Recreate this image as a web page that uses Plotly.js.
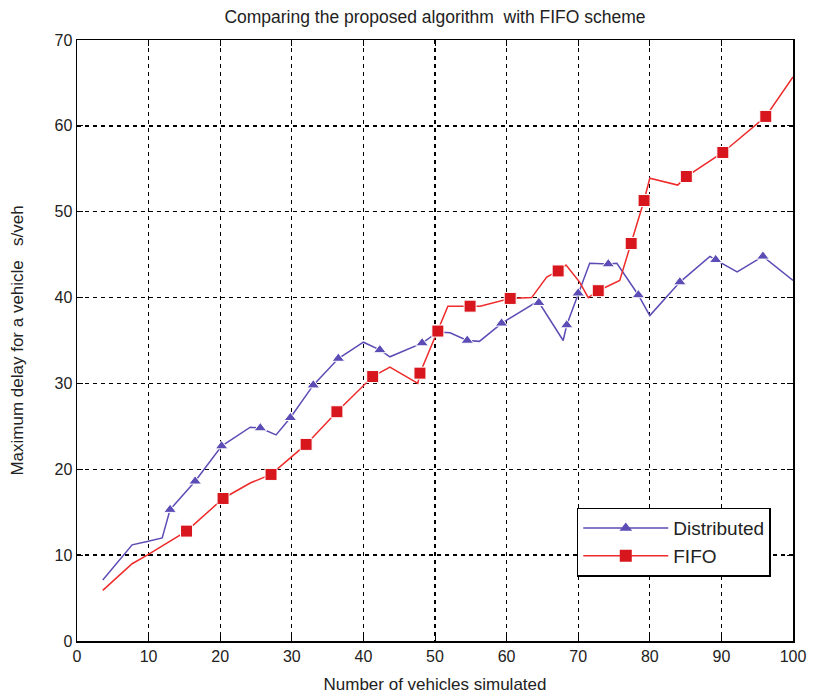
<!DOCTYPE html>
<html>
<head>
<meta charset="utf-8">
<script src="https://cdn.plot.ly/plotly-3.0.1.min.js"></script>
<style>html,body{margin:0;padding:0;background:#fff;}#chart{width:813px;height:698px;}</style>
</head>
<body>
<div id="chart"></div>
<script>
// Distributed line vertices
const distX = [3.6, 7.7, 9.8, 11.9, 13.0, 16.5, 20.2, 24.2, 25.6, 27.8, 29.8, 33.0, 36.5, 40.0, 42.3, 43.7, 48.2, 50.4, 52.1, 54.5, 56.2, 59.3, 64.4, 67.9, 68.4, 70.0, 71.6, 74.2, 75.4, 78.4, 80.0, 84.2, 88.4, 89.2, 92.2, 95.8, 100];
const distY = [7.1, 11.2, 11.6, 12.0, 15.3, 18.6, 22.7, 24.9, 24.8, 24.0, 26.0, 29.8, 32.9, 34.8, 33.9, 33.1, 34.7, 36.0, 35.9, 35.0, 34.9, 37.0, 39.6, 35.0, 36.8, 40.5, 44.0, 43.9, 44.0, 40.3, 37.9, 41.8, 44.8, 44.4, 43.0, 44.8, 42.0];
// Distributed marker positions
const distMX = [13.0, 16.5, 20.2, 25.6, 29.8, 33.0, 36.5, 42.3, 48.2, 54.5, 59.3, 64.5, 68.4, 70.0, 74.2, 78.4, 84.2, 89.2, 95.8];
const distMY = [15.3, 18.6, 22.7, 24.8, 26.0, 29.8, 32.9, 33.9, 34.7, 35.0, 37.0, 39.4, 36.8, 40.5, 43.9, 40.3, 41.8, 44.4, 44.8];

// FIFO line vertices
const fifoX = [3.6, 7.7, 9.8, 15.3, 20.4, 24.2, 27.1, 32.0, 36.3, 41.3, 43.7, 47.6, 47.9, 50.4, 51.8, 54.9, 56.3, 60.5, 63.5, 65.6, 67.2, 68.3, 70.2, 71.4, 72.8, 75.8, 77.4, 79.2, 80.0, 83.9, 85.1, 90.2, 96.2, 100];
const fifoY = [5.9, 9.0, 10.0, 12.8, 16.6, 18.4, 19.4, 22.9, 26.7, 30.8, 31.9, 30.0, 31.2, 36.1, 39.0, 39.0, 39.0, 39.9, 40.0, 42.4, 43.1, 43.8, 41.8, 40.0, 40.8, 42.0, 46.3, 51.3, 53.9, 53.1, 54.1, 56.9, 61.1, 65.7];
// FIFO marker positions
const fifoMX = [15.3, 20.4, 27.1, 32.0, 36.3, 41.3, 47.9, 50.4, 54.9, 60.5, 67.2, 72.8, 77.4, 79.2, 85.1, 90.2, 96.2];
const fifoMY = [12.8, 16.6, 19.4, 22.9, 26.7, 30.8, 31.2, 36.1, 39.0, 39.9, 43.1, 40.8, 46.3, 51.3, 54.1, 56.9, 61.1];

const xTicks = [0,10,20,30,40,50,60,70,80,90,100];
const yTicks = [0,10,20,30,40,50,60,70];

const blue = '#5b4db5';
const red = '#ee2a2a';
const font = 'Liberation Sans, Arial, sans-serif';

const traces = [
  {x: distX, y: distY, mode: 'lines', line: {color: blue, width: 1.5}, showlegend: false, hoverinfo: 'skip'},
  {x: distMX, y: distMY, mode: 'markers', marker: {symbol: 'triangle-up', size: 11, color: blue, line: {color: '#ffffff', width: 1}}, showlegend: false},
  {x: fifoX, y: fifoY, mode: 'lines', line: {color: red, width: 1.5}, showlegend: false, hoverinfo: 'skip'},
  {x: fifoMX, y: fifoMY, mode: 'markers', marker: {symbol: 'square', size: 12, color: '#d8161e', line: {color: '#ffffff', width: 1}}, showlegend: false},
  {x: [null], y: [null], name: 'Distributed', mode: 'lines+markers', line: {color: blue, width: 1.5}, marker: {symbol: 'triangle-up', size: 11, color: blue}},
  {x: [null], y: [null], name: 'FIFO', mode: 'lines+markers', line: {color: red, width: 1.5}, marker: {symbol: 'square', size: 12, color: '#d8161e'}}
];

const axisCommon = {
  showline: true, linecolor: '#000', linewidth: 1.5, mirror: 'ticks',
  ticks: 'inside', ticklen: 6, tickcolor: '#000', tickwidth: 1,
  showgrid: true, gridcolor: '#000', gridwidth: 1.4, griddash: '4px,4px',
  zeroline: false, tickfont: {family: font, size: 16, color: '#222'}
};

const layout = {
  width: 813, height: 698,
  margin: {l: 77, r: 20, t: 40, b: 57},
  paper_bgcolor: '#fff', plot_bgcolor: '#fff',
  font: {family: font, color: '#222'},
  title: {text: 'Comparing the proposed algorithm  with FIFO scheme', font: {family: font, size: 17.5, color: '#222'}, x: 0.535, xanchor: 'center', y: 0.976, yanchor: 'middle'},
  xaxis: Object.assign({}, axisCommon, {range: [0, 100], tickvals: xTicks, title: {text: 'Number of vehicles simulated', font: {family: font, size: 17, color: '#222'}, standoff: 14}}),
  yaxis: Object.assign({}, axisCommon, {range: [0, 70], tickvals: yTicks, title: {text: 'Maximum delay for a vehicle   s/veh', font: {family: font, size: 17, color: '#222'}, standoff: 26}}),
  legend: {x: 0.698, y: 0.222, xanchor: 'left', yanchor: 'top', bgcolor: '#fff', bordercolor: '#000', borderwidth: 1.5, font: {family: font, size: 19, color: '#222'}, itemwidth: 85, tracegroupgap: 0}
};

Plotly.newPlot('chart', traces, layout, {displayModeBar: false, staticPlot: true});
</script>
</body>
</html>
